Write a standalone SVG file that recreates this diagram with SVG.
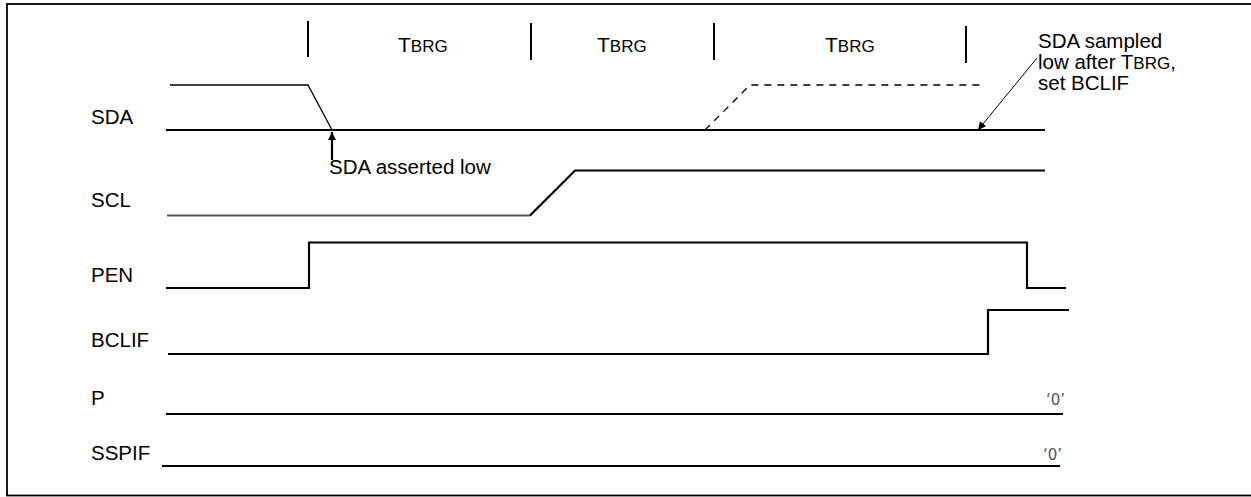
<svg xmlns="http://www.w3.org/2000/svg" width="1251" height="497" viewBox="0 0 1251 497">
<style>
.lbl{font-family:"Liberation Sans",Arial,sans-serif;font-size:20.5px;fill:#000}
.tb{font-family:"Liberation Sans",Arial,sans-serif;font-size:21px;fill:#000}
.sm{font-size:17px}
.zero{font-family:"DejaVu Sans",sans-serif;font-size:15px;fill:#555}
.sig{fill:none;stroke:#000;stroke-width:2.2}
.thin{fill:none;stroke:#000;stroke-width:1.3}
.tick{stroke:#000;stroke-width:2}
</style>
<defs>
<marker id="ah2" viewBox="0 0 10 10" refX="10" refY="5" markerWidth="10" markerHeight="8" orient="auto" markerUnits="userSpaceOnUse">
<path d="M0,0 L10,5 L0,10 z" fill="#000"/>
</marker>
</defs>
<rect x="7" y="4" width="1270" height="491.5" fill="none" stroke="#000" stroke-width="1.8"/>
<g id="ticks">
<line class="tick" x1="308" y1="21" x2="308" y2="57"/>
<line class="tick" x1="531" y1="23" x2="531" y2="60"/>
<line class="tick" x1="714" y1="23" x2="714" y2="60"/>
<line class="tick" x1="966" y1="26" x2="966" y2="63"/>
<text class="tb" x="398" y="52">T<tspan class="sm">BRG</tspan></text>
<text class="tb" x="597" y="52">T<tspan class="sm">BRG</tspan></text>
<text class="tb" x="825" y="52">T<tspan class="sm">BRG</tspan></text>
</g>
<g id="sda">
<text class="lbl" x="91" y="124">SDA</text>
<polyline class="thin" points="170,85 308,85 332,130"/>
<line class="sig" x1="166" y1="130" x2="1045" y2="130"/>
<polyline fill="none" stroke="#000" stroke-width="1.3" stroke-dasharray="7,6" points="705,130 750,85 985,85"/>
</g>
<g id="scl">
<text class="lbl" x="91" y="207">SCL</text>
<line x1="167" y1="215.5" x2="530" y2="215.5" stroke="#555" stroke-width="2.2"/>
<polyline class="sig" points="530,215.5 575,170.5 1045,170.5"/>
</g>
<g id="pen">
<text class="lbl" x="91" y="282">PEN</text>
<polyline class="sig" points="166,288 309,288 309,242.5 1027,242.5 1027,288 1066,288"/>
</g>
<g id="bclif">
<text class="lbl" x="91" y="347">BCLIF</text>
<polyline class="sig" points="168,354 988,354 988,310 1069,310"/>
</g>
<g id="p">
<text class="lbl" x="91" y="405">P</text>
<line class="sig" x1="166" y1="414" x2="1063" y2="414"/>
<text class="zero" x="1046" y="405">‘0’</text>
</g>
<g id="sspif">
<text class="lbl" x="91" y="460">SSPIF</text>
<line class="sig" x1="162" y1="466" x2="1060" y2="466"/>
<text class="zero" x="1043" y="460">‘0’</text>
</g>
<g id="connectors">
<line x1="332" y1="160" x2="332" y2="132" stroke="#000" stroke-width="2.2" marker-end="url(#ah2)"/>
<line x1="1037" y1="58" x2="978" y2="130" stroke="#000" stroke-width="1" marker-end="url(#ah2)"/>
</g>
<g id="notes">
<text class="lbl" x="329" y="174">SDA asserted low</text>
<text class="lbl" x="1038" y="48">SDA sampled</text>
<text class="lbl" x="1038" y="69">low after T<tspan class="sm">BRG</tspan>,</text>
<text class="lbl" x="1038" y="90">set BCLIF</text>
</g>
</svg>
